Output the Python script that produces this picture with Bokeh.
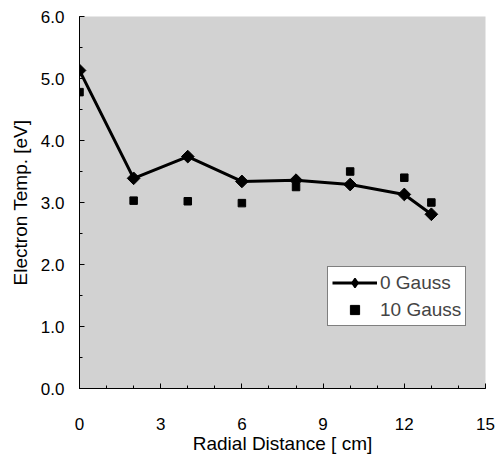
import math
from bokeh.plotting import figure
from bokeh.models import FixedTicker, PrintfTickFormatter, Legend, LegendItem, Range1d
from bokeh.embed import file_html
from bokeh.resources import INLINE

radial = [0, 2, 4, 6, 8, 10, 12, 13]
temp_0g = [5.13, 3.39, 3.74, 3.34, 3.36, 3.29, 3.13, 2.81]
temp_10g = [4.78, 3.03, 3.02, 2.99, 3.25, 3.50, 3.40, 3.00]
x_ticks = [0, 3, 6, 9, 12, 15]
y_ticks = [0, 1, 2, 3, 4, 5, 6]

FONT = "Liberation Sans"

p = figure(frame_width=406, frame_height=372, output_backend="svg", toolbar_location=None,
           x_range=Range1d(0, 15), y_range=Range1d(0, 6))
p.min_border_left = 79
p.min_border_top = 16
p.min_border_right = 12
p.min_border_bottom = 40
p.outline_line_color = None
p.background_fill_color = "#d2d2d2"
p.border_fill_color = "white"
p.grid.visible = False

p.xaxis.ticker = FixedTicker(ticks=x_ticks, minor_ticks=list(range(16)))
p.yaxis.ticker = FixedTicker(ticks=y_ticks, minor_ticks=[i * 0.5 for i in range(13)])
p.yaxis.formatter = PrintfTickFormatter(format="%.1f")
for ax in (p.xaxis, p.yaxis):
    ax.major_tick_in = 5
    ax.major_tick_out = 0
    ax.minor_tick_in = 3
    ax.minor_tick_out = 0
    ax.axis_line_color = "black"
    ax.major_tick_line_color = "black"
    ax.minor_tick_line_color = "black"
    ax.major_label_text_font = FONT
    ax.major_label_text_font_size = "17px"
    ax.major_label_text_color = "black"
    ax.axis_label_text_font = FONT
    ax.axis_label_text_font_size = "19px"
    ax.axis_label_text_font_style = "normal"
    ax.axis_label_text_color = "black"
p.xaxis.major_label_standoff = 29
p.yaxis.major_label_standoff = 15
p.xaxis.axis_label = "Radial Distance [ cm]"
p.yaxis.axis_label = "Electron Temp. [eV]"
p.xaxis.axis_label_standoff = 0
p.yaxis.axis_label_standoff = 7

l0 = p.line(radial, temp_0g, line_color="black", line_width=3)
m0 = p.scatter(radial, temp_0g, marker="square", size=9, angle=math.pi / 4,
               fill_color="black", line_color="black")
m1 = p.scatter(radial, temp_10g, marker="square", size=7.5, fill_color="black", line_color="black")
# legend-only glyph (a point far outside the visible ranges) so the legend shows a diamond
m0_leg = p.scatter([-100], [-100], marker="diamond", size=16, line_width=1.5,
                   fill_color="black", line_color="black")

legend = Legend(items=[LegendItem(label="0 Gauss", renderers=[l0, m0_leg]),
                       LegendItem(label="10 Gauss", renderers=[m1])],
                location=(248, 62))
legend.background_fill_color = "white"
legend.background_fill_alpha = 1
legend.border_line_color = "black"
legend.border_line_width = 1
legend.label_text_font = FONT
legend.label_text_font_size = "19px"
legend.glyph_width = 45
legend.glyph_height = 23
legend.label_standoff = 3
legend.spacing = 4
legend.padding = 4
legend.margin = 0
p.add_layout(legend, "center")

open("out.html", "w").write(file_html(p, INLINE))
